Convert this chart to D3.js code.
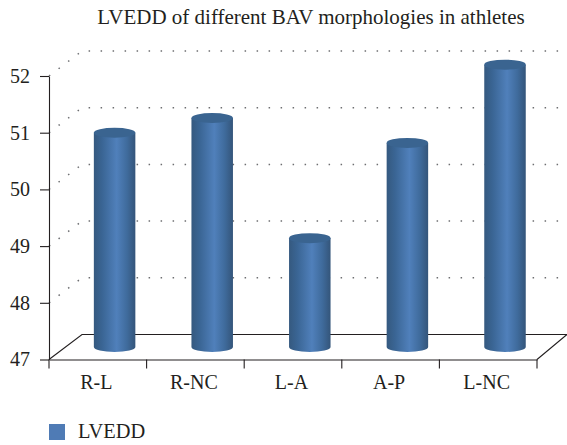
<!DOCTYPE html>
<html><head><meta charset="utf-8">
<script src="https://cdn.jsdelivr.net/npm/d3@7"></script>
<style>html,body{margin:0;padding:0;background:#fff}svg{display:block}text{font-family:"Liberation Serif",serif;fill:#231f20}</style>
</head><body><svg id="c" width="567" height="445"></svg>
<script>
const titleText = "LVEDD of different BAV morphologies in athletes";
const seriesName = "LVEDD";
const categories = ["R-L","R-NC","L-A","A-P","L-NC"];
const values = [50.78,51.04,48.92,50.6,51.98];
const yTicks = [47,48,49,50,51,52];

const svg = d3.select("#c");
const x = d3.scaleBand().domain(categories).range([49,537]);
const y = d3.scaleLinear().domain([47,52]).range([359.5,76]);
const dx = 33, dy = -25;            // 3D depth of the plot box
const barW = 41.5, ry = 5;

const defs = svg.append("defs");
const g = defs.append("linearGradient").attr("id","cyl").attr("x1",0).attr("x2",1).attr("y1",0).attr("y2",0);
[[0,"#35597f"],[0.2,"#3a6594"],[0.55,"#5080bb"],[0.8,"#3f6b9c"],[1,"#34557a"]].forEach(s=>g.append("stop").attr("offset",s[0]).attr("stop-color",s[1]));

// dotted walls
const grid = svg.append("g").attr("fill","none").attr("stroke","#6d6e71").attr("stroke-width",1.5).attr("stroke-dasharray","1.5 10.5");
yTicks.slice(1).forEach(t=>{
  grid.append("path").attr("d",`M${x.range()[0]},${y(t)}L${x.range()[0]+dx},${y(t)+dy}L567,${y(t)+dy}`);
});

// floor
const ax = svg.append("g").attr("fill","none").attr("stroke","#231f20").attr("stroke-width",1.1);
ax.append("path").attr("d",`M${x.range()[0]},${y(47)}L${x.range()[0]+dx},${y(47)+dy}L${x.range()[1]+dx-3},${y(47)+dy}L${x.range()[1]},${y(47)}`);

// cylinders
const bars = svg.append("g").selectAll("g").data(categories.map((c,i)=>({c,v:values[i]}))).join("g");
const cxOf = d=>x(d.c)+x.bandwidth()/2+dx/2+0.3;
const yTop = d=>y(d.v)+dy/2;
const yBase = y(47)+dy/2;
bars.append("path").attr("fill","url(#cyl)")
  .attr("d",d=>{const c=cxOf(d),r=barW/2;
    return `M${c-r},${yTop(d)}V${yBase}A${r},${ry} 0 0 0 ${c+r},${yBase}V${yTop(d)}Z`;});
bars.append("ellipse").attr("cx",cxOf).attr("cy",yTop).attr("rx",barW/2).attr("ry",ry).attr("fill","#3a6490");

// axes
const yAxis = d3.axisLeft(y).tickValues(yTicks).tickFormat(d3.format("d")).tickSize(9).tickSizeOuter(0).tickPadding(10);
const yG = svg.append("g").attr("transform",`translate(${x.range()[0]},0)`).call(yAxis);
const xAxis = d3.axisBottom(x).tickSize(0).tickPadding(15);
const xG = svg.append("g").attr("transform",`translate(0,${y(47)})`).call(xAxis);
xG.append("g").selectAll("line").data([...categories.map(c=>x(c)),x.range()[1]]).join("line")
  .attr("x1",d=>d).attr("x2",d=>d).attr("y1",0).attr("y2",9).attr("stroke","#231f20").attr("stroke-width",1.1);
[yG,xG].forEach(a=>{a.selectAll(".domain,.tick line").attr("stroke","#231f20").attr("stroke-width",1.1);
  a.selectAll("text").attr("font-size",20).style("font-family",'"Liberation Serif",serif').attr("fill","#231f20");});
xG.selectAll(".tick text").attr("dx",-1.5);

// title
svg.append("text").attr("x",311).attr("y",24).attr("text-anchor","middle").attr("font-size",21).text(titleText);

// legend
svg.append("rect").attr("x",49).attr("y",424).attr("width",16).attr("height",16).attr("fill","#4f7bb5");
svg.append("text").attr("x",78).attr("y",438).attr("font-size",20.4).text(seriesName);
</script></body></html>
